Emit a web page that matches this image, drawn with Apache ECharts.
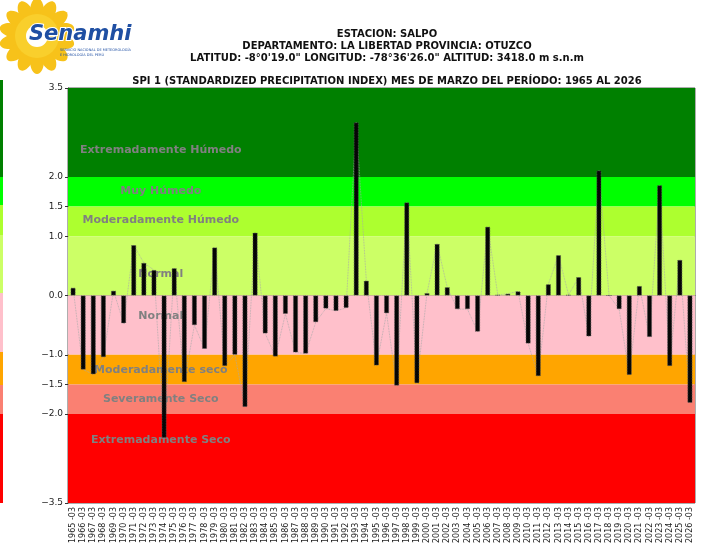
<!DOCTYPE html>
<html>
<head>
<meta charset="utf-8">
<script src="https://cdn.jsdelivr.net/npm/echarts@6/dist/echarts.min.js"></script>
<style>
  html, body { margin: 0; padding: 0; background: #fff; }
  #chart { width: 703px; height: 546px; }
</style>
</head>
<body>
<div id="chart"></div>
<script>
// categories (year-month) and SPI values
const years = [
  1965, 1966, 1967, 1968, 1969, 1970, 1971, 1972, 1973, 1974, 1975, 1976, 1977, 1978, 1979, 1980,
  1981, 1982, 1983, 1984, 1985, 1986, 1987, 1988, 1989, 1990, 1991, 1992, 1993, 1994, 1995, 1996,
  1997, 1998, 1999, 2000, 2001, 2002, 2003, 2004, 2005, 2006, 2007, 2008, 2009, 2010, 2011, 2012,
  2013, 2014, 2015, 2016, 2017, 2018, 2019, 2020, 2021, 2022, 2023, 2024, 2025, 2026
]
const categories = years.map(y => y + ' -03')

const spi = [
  0.13, -1.25, -1.33, -1.04, 0.08, -0.47, 0.85, 0.55, 0.43, -2.40, 0.46, -1.46, -0.50, -0.90, 0.81, -1.19,
  -1.00, -1.88, 1.06, -0.64, -1.03, -0.31, -0.96, -0.98, -0.45, -0.22, -0.26, -0.21, 2.92, 0.25, -1.18, -0.30,
  -1.52, 1.57, -1.48, 0.04, 0.87, 0.14, -0.23, -0.23, -0.61, 1.16, 0.01, 0.03, 0.07, -0.81, -1.36, 0.19,
  0.68, 0.01, 0.31, -0.69, 2.11, 0.0, -0.23, -1.34, 0.16, -0.70, 1.86, -1.19, 0.60, -1.81
]

// y tick labels shown on the axis
const yTicks = [-3.5, -2.0, -1.5, -1.0, 0.0, 1.0, 1.5, 2.0, 3.5]

// classification bands: [from, to]
const bandNames = [
  'Extremadamente Húmedo', 'Muy Húmedo', 'Moderadamente Húmedo', 'Normal',
  'Normal', 'Moderadamente seco', 'Severamente Seco', 'Extremadamente Seco'
]
const bandRanges = [
  [2.0, 3.5], [1.5, 2.0], [1.0, 1.5], [0.0, 1.0],
  [-1.0, 0.0], [-1.5, -1.0], [-2.0, -1.5], [-3.5, -2.0]
]
const bandColors = [
  '#008000', '#00ff00', '#adff2f', '#ccff66',
  '#ffc0cb', '#ffa500', '#fa8072', '#ff0000'
]
// vertical spot of each band label inside its band
const bandLabelY = ['70%', '47%', '45%', '64%', '35%', '51%', '49%', '29%']

const FONT = 'DejaVu Sans'

const chart = echarts.init(document.getElementById('chart'), null, { renderer: 'canvas' })

const bandFill = bandRanges.map((r, i) => [
  { yAxis: r[1], itemStyle: { color: bandColors[i] } },
  { yAxis: r[0] }
])
const bandText = bandRanges.map((r, i) => [
  {
    yAxis: r[1],
    name: bandNames[i],
    label: { position: ['14.8%', bandLabelY[i]] }
  },
  { yAxis: r[0] }
])

// sun rays of the logo
const logo = []
for (let k = 0; k < 14; k++) {
  const a = (k / 14) * Math.PI * 2
  logo.push({
    type: 'ellipse',
    shape: { cx: 0, cy: -25, rx: 7, ry: 13 },
    x: 37, y: 36,
    rotation: a,
    style: { fill: '#f7c21a' },
    z: 10
  })
}
logo.push(
  { type: 'circle', shape: { cx: 37, cy: 36, r: 22 }, style: { fill: '#f9cf2c' }, z: 11 },
  { type: 'circle', shape: { cx: 37, cy: 36, r: 11 }, style: { fill: '#fff' }, z: 12 },
  {
    type: 'text', x: 29, y: 24, z: 13,
    style: {
      text: 'Senamhi', fill: '#1f4fa3', stroke: '#fff', lineWidth: 2,
      font: 'italic bold 21px "DejaVu Sans"'
    }
  },
  {
    type: 'text', x: 60, y: 48, z: 13,
    style: { text: 'SERVICIO NACIONAL DE METEOROLOGÍA', fill: '#1f4fa3', font: '3.5px "DejaVu Sans"' }
  },
  {
    type: 'text', x: 60, y: 53, z: 13,
    style: { text: 'E HIDROLOGÍA DEL PERÚ', fill: '#1f4fa3', font: '3.5px "DejaVu Sans"' }
  }
)

// thin strip of a neighbouring panel at the left edge
const stripEdges = [80, 177, 205, 235, 293, 352, 385, 414, 503]
for (let k = 0; k < 8; k++) {
  logo.push({
    type: 'rect',
    shape: { x: 0, y: stripEdges[k], width: 3, height: stripEdges[k + 1] - stripEdges[k] },
    style: { fill: bandColors[k] },
    z: 1
  })
}

chart.setOption({
  animation: false,
  textStyle: { fontFamily: FONT },
  title: [
    {
      text: 'ESTACION: SALPO\nDEPARTAMENTO: LA LIBERTAD PROVINCIA: OTUZCO\nLATITUD: -8°0\'19.0" LONGITUD: -78°36\'26.0" ALTITUD: 3418.0 m s.n.m',
      left: 382, top: 23, textAlign: 'center',
      textStyle: { fontFamily: FONT, fontSize: 10, fontWeight: 'bold', color: '#111', lineHeight: 12 }
    },
    {
      text: 'SPI 1 (STANDARDIZED PRECIPITATION INDEX) MES DE MARZO DEL PERÍODO: 1965 AL 2026',
      left: 382, top: 71, textAlign: 'center',
      textStyle: { fontFamily: FONT, fontSize: 10, fontWeight: 'bold', color: '#111' }
    }
  ],
  graphic: logo,
  grid: { left: 68, right: 8, top: 88, bottom: 43, show: true, borderColor: '#333', borderWidth: 0.8 },
  xAxis: {
    type: 'category',
    data: categories,
    boundaryGap: true,
    axisLine: { lineStyle: { color: '#333', width: 0.8 } },
    axisTick: { alignWithLabel: true, length: 3, lineStyle: { color: '#333' } },
    axisLabel: { rotate: 90, interval: 0, fontSize: 8, color: '#222', margin: 4, fontFamily: FONT },
    splitLine: { show: false }
  },
  yAxis: {
    type: 'value',
    min: -3.5,
    max: 3.5,
    interval: 0.5,
    axisLine: { show: true, lineStyle: { color: '#333', width: 0.8 } },
    axisTick: { show: true, length: 3, customValues: yTicks, lineStyle: { color: '#333' } },
    axisLabel: {
      customValues: yTicks,
      fontSize: 9, color: '#222', margin: 5, fontFamily: FONT,
      formatter: v => (v < 0 ? '\u2212' + Math.abs(v).toFixed(1) : v.toFixed(1))
    },
    splitLine: { show: false }
  },
  series: [
    {
      name: 'bands',
      type: 'line',
      data: [],
      z: 1,
      silent: true,
      markArea: { silent: true, label: { show: false }, data: bandFill }
    },
    {
      name: 'trend',
      type: 'line',
      data: spi,
      z: 2,
      symbol: 'none',
      silent: true,
      lineStyle: { color: '#a8a8a8', width: 0.8, type: 'dotted' }
    },
    {
      name: 'SPI',
      type: 'bar',
      data: spi,
      z: 3,
      barWidth: 5,
      itemStyle: { color: '#050505', borderColor: '#555', borderWidth: 0.8, borderType: 'dotted' }
    },
    {
      name: 'band labels',
      type: 'line',
      data: [],
      z: 5,
      silent: true,
      markArea: {
        silent: true,
        itemStyle: { color: 'rgba(0,0,0,0)' },
        label: {
          show: true,
          align: 'center',
          verticalAlign: 'middle',
          color: '#808080',
          fontWeight: 'bold',
          fontSize: 11,
          fontFamily: FONT
        },
        data: bandText
      }
    }
  ]
})
</script>
</body>
</html>
